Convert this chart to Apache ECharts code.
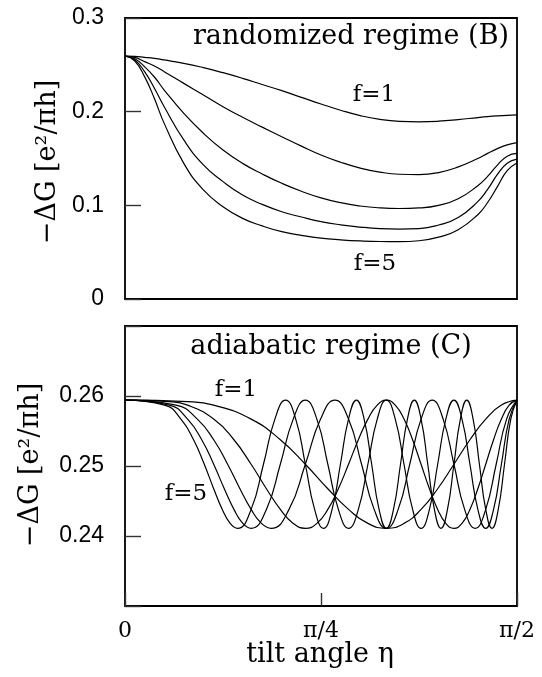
<!DOCTYPE html>
<html>
<head>
<meta charset="utf-8">
<script src="https://cdn.jsdelivr.net/npm/echarts@6/dist/echarts.min.js"></script>
<style>
html, body { margin: 0; padding: 0; background: #fff; }
#chart { width: 542px; height: 677px; }
</style>
</head>
<body>
<div id="chart"></div>
<script>
// Tilt angle samples (rad) for the randomized-regime curves
const etaRandom = [0, 0.0393, 0.0785, 0.1178, 0.1571, 0.2356, 0.3142, 0.3927, 0.4712, 0.5498,
  0.6283, 0.7069, 0.7854, 0.8639, 0.9425, 1.0210, 1.0996, 1.1781, 1.2566, 1.3352,
  1.4137, 1.4530, 1.4923, 1.5315, 1.5708];
const gRandomF1 = [0.2594, 0.2591, 0.2580, 0.2568, 0.2552, 0.2516, 0.2470, 0.2416, 0.2356, 0.2290,
  0.2224, 0.2153, 0.2082, 0.2015, 0.1958, 0.1918, 0.1897, 0.1892, 0.1898, 0.1915,
  0.1937, 0.1947, 0.1955, 0.1961, 0.1965];
const gRandomF2 = [0.2594, 0.2579, 0.2534, 0.2487, 0.2427, 0.2302, 0.2178, 0.2053, 0.1940, 0.1835,
  0.1733, 0.1632, 0.1537, 0.1460, 0.1398, 0.1355, 0.1332, 0.1328, 0.1350, 0.1410,
  0.1500, 0.1555, 0.1605, 0.1645, 0.1669];
const gRandomF3 = [0.2594, 0.2565, 0.2480, 0.2370, 0.2231, 0.1982, 0.1769, 0.1591, 0.1448, 0.1335,
  0.1235, 0.1150, 0.1080, 0.1028, 0.0993, 0.0973, 0.0966, 0.0972, 0.1000, 0.1070,
  0.1210, 0.1310, 0.1430, 0.1525, 0.1555];
const gRandomF4 = [0.2594, 0.2552, 0.2427, 0.2250, 0.2053, 0.1698, 0.1431, 0.1253, 0.1110, 0.1010,
  0.0932, 0.0875, 0.0826, 0.0792, 0.0768, 0.0752, 0.0747, 0.0752, 0.0790, 0.0870,
  0.1040, 0.1170, 0.1330, 0.1450, 0.1493];
const gRandomF5 = [0.2594, 0.2539, 0.2374, 0.2140, 0.1875, 0.1448, 0.1164, 0.0986, 0.0861, 0.0780,
  0.0719, 0.0680, 0.0650, 0.0632, 0.0620, 0.0614, 0.0613, 0.0622, 0.0660, 0.0740,
  0.0900, 0.1030, 0.1200, 0.1370, 0.1452];

// Adiabatic regime: each curve listed at its own extrema, crossings and quarter points
const etaAdiabaticF1 = [0, 0.2507, 0.3554, 0.5054, 0.6224, 0.7227, 0.8128, 0.8957, 0.9734, 1.0472,
  1.1180, 1.1864, 1.2530, 1.3181, 1.3822, 1.4455, 1.5083, 1.5708];
const gAdiabaticF1 = [0.2594, 0.2592, 0.2587, 0.2567, 0.25375, 0.25025, 0.24675, 0.2438, 0.2418, 0.2411,
  0.2418, 0.2438, 0.24675, 0.25025, 0.25375, 0.2567, 0.2587, 0.2594];

const etaAdiabaticF2 = [0, 0.1770, 0.2507, 0.3554, 0.4365, 0.5054, 0.5666, 0.6224, 0.6741, 0.7227,
  0.7688, 0.8128, 0.8550, 0.8957, 0.9351, 0.9734, 1.0107, 1.0472, 1.0829, 1.1180,
  1.1525, 1.1864, 1.2199, 1.2530, 1.2857, 1.3181, 1.3503, 1.3822, 1.4139, 1.4455,
  1.4769, 1.5083, 1.5395, 1.5708];
const gAdiabaticF2 = [0.2594, 0.2592, 0.2587, 0.2567, 0.25375, 0.25025, 0.24675, 0.2438, 0.2418, 0.2411,
  0.2418, 0.2438, 0.24675, 0.25025, 0.25375, 0.2567, 0.2587, 0.2594, 0.2587, 0.2567,
  0.25375, 0.25025, 0.24675, 0.2438, 0.2418, 0.2411, 0.2418, 0.2438, 0.24675, 0.25025,
  0.25375, 0.2567, 0.2587, 0.2594];

const etaAdiabaticF3 = [0, 0.2045, 0.2897, 0.3554, 0.4111, 0.4605, 0.5054, 0.5469, 0.5857, 0.6573,
  0.7227, 0.7837, 0.8411, 0.8957, 0.9480, 0.9984, 1.0472, 1.0947, 1.1410, 1.1864,
  1.2310, 1.2748, 1.3181, 1.3609, 1.4033, 1.4455, 1.4874, 1.5291, 1.5708];
const gAdiabaticF3 = [0.2594, 0.2587, 0.2567, 0.25375, 0.25025, 0.24675, 0.2438, 0.2418, 0.2411, 0.2438,
  0.25025, 0.2567, 0.2594, 0.2567, 0.25025, 0.2438, 0.2411, 0.2438, 0.25025, 0.2567,
  0.2594, 0.2567, 0.25025, 0.2438, 0.2411, 0.2438, 0.25025, 0.2567, 0.2594];

const etaAdiabaticF4 = [0, 0.1770, 0.2507, 0.3074, 0.3554, 0.3979, 0.4365, 0.4721, 0.5054, 0.5666,
  0.6224, 0.6741, 0.7227, 0.7688, 0.8128, 0.8550, 0.8957, 0.9351, 0.9734, 1.0107,
  1.0472, 1.0829, 1.1180, 1.1525, 1.1864, 1.2199, 1.2530, 1.2857, 1.3181, 1.3503,
  1.3822, 1.4139, 1.4455, 1.4769, 1.5083, 1.5395, 1.5708];
const gAdiabaticF4 = [0.2594, 0.2587, 0.2567, 0.25375, 0.25025, 0.24675, 0.2438, 0.2418, 0.2411, 0.2438,
  0.25025, 0.2567, 0.2594, 0.2567, 0.25025, 0.2438, 0.2411, 0.2438, 0.25025, 0.2567,
  0.2594, 0.2567, 0.25025, 0.2438, 0.2411, 0.2438, 0.25025, 0.2567, 0.2594, 0.2567,
  0.25025, 0.2438, 0.2411, 0.2438, 0.25025, 0.2567, 0.2594];

const etaAdiabaticF5 = [0, 0.1583, 0.2241, 0.2747, 0.3176, 0.3554, 0.3898, 0.4214, 0.4510, 0.5054,
  0.5548, 0.6006, 0.6435, 0.6841, 0.7227, 0.7598, 0.7954, 0.8298, 0.8632, 0.8957,
  0.9273, 0.9582, 0.9884, 1.0181, 1.0472, 1.0758, 1.1040, 1.1318, 1.1593, 1.1864,
  1.2132, 1.2398, 1.2661, 1.2922, 1.3181, 1.3439, 1.3694, 1.3949, 1.4202, 1.4455,
  1.4706, 1.4957, 1.5208, 1.5458, 1.5708];
const gAdiabaticF5 = [0.2594, 0.2587, 0.2567, 0.25375, 0.25025, 0.24675, 0.2438, 0.2418, 0.2411, 0.2438,
  0.25025, 0.2567, 0.2594, 0.2567, 0.25025, 0.2438, 0.2411, 0.2438, 0.25025, 0.2567,
  0.2594, 0.2567, 0.25025, 0.2438, 0.2411, 0.2438, 0.25025, 0.2567, 0.2594, 0.2567,
  0.25025, 0.2438, 0.2411, 0.2438, 0.25025, 0.2567, 0.2594, 0.2567, 0.25025, 0.2438,
  0.2411, 0.2438, 0.25025, 0.2567, 0.2594];

// Axis ticks
const xTickLabels = ['0', 'π/4', 'π/2'];
const xMax = 1.5708;
const xStep = 0.7854;
const yTopTicks = [0, 0.1, 0.2, 0.3];
const yBottomTicks = [0.24, 0.25, 0.26];

const serif = '"DejaVu Serif", "Liberation Serif", serif';
const sans = '"Liberation Sans", Arial, sans-serif';

function pairs(xs, ys) {
  return xs.map((x, i) => [x, ys[i]]);
}

function curve(xIndex, yIndex, xs, ys) {
  return {
    type: 'line',
    xAxisIndex: xIndex,
    yAxisIndex: yIndex,
    data: pairs(xs, ys),
    smooth: 0.5,
    showSymbol: false,
    silent: true,
    lineStyle: { color: '#000', width: 1.2 }
  };
}

const chart = echarts.init(document.getElementById('chart'), null, { renderer: 'canvas' });

const tickStyle = { show: true, inside: true, length: 16, lineStyle: { color: '#333', width: 1.4 } };

chart.setOption({
  animation: false,
  backgroundColor: '#fff',
  grid: [
    { left: 125, top: 18, width: 392, height: 281, show: true, borderColor: '#000', borderWidth: 1.8, backgroundColor: 'transparent' },
    { left: 125, top: 326, width: 392, height: 280, show: true, borderColor: '#000', borderWidth: 1.8, backgroundColor: 'transparent' }
  ],
  xAxis: [
    {
      gridIndex: 0, type: 'value', min: 0, max: xMax, interval: xStep,
      axisLine: { show: false }, axisTick: { show: false }, axisLabel: { show: false }, splitLine: { show: false }
    },
    {
      gridIndex: 1, type: 'value', min: 0, max: xMax, interval: xStep,
      axisLine: { show: false },
      axisTick: { show: true, inside: true, length: 13, lineStyle: { color: '#333', width: 1.4 } },
      splitLine: { show: false },
      axisLabel: {
        margin: 14, color: '#000', fontFamily: serif, fontSize: 22,
        formatter: (v) => xTickLabels[Math.round(v / xStep)] || ''
      }
    }
  ],
  yAxis: [
    {
      gridIndex: 0, type: 'value', min: 0, max: 0.3, interval: 0.1,
      axisLine: { show: false }, axisTick: tickStyle, splitLine: { show: false },
      axisLabel: {
        margin: 21, color: '#000', fontFamily: sans, fontSize: 23,
        formatter: (v) => {
          const t = yTopTicks.find((k) => Math.abs(k - v) < 1e-6);
          return t === undefined ? '' : (t === 0 ? '0' : t.toFixed(1));
        }
      }
    },
    {
      gridIndex: 1, type: 'value', min: 0.23, max: 0.27, interval: 0.01,
      axisLine: { show: false }, axisTick: tickStyle, splitLine: { show: false },
      axisLabel: {
        margin: 21, color: '#000', fontFamily: sans, fontSize: 23,
        formatter: (v) => {
          const t = yBottomTicks.find((k) => Math.abs(k - v) < 1e-6);
          return t === undefined ? '' : t.toFixed(2);
        }
      }
    }
  ],
  graphic: [
    { type: 'text', x: 509, y: 37, silent: true,
      style: { text: 'randomized regime (B)', font: '27px ' + serif, fill: '#000', textAlign: 'right', textVerticalAlign: 'middle' } },
    { type: 'text', x: 374, y: 95, silent: true,
      style: { text: 'f=1', font: '23px ' + serif, fill: '#000', textAlign: 'center', textVerticalAlign: 'middle' } },
    { type: 'text', x: 375, y: 264, silent: true,
      style: { text: 'f=5', font: '23px ' + serif, fill: '#000', textAlign: 'center', textVerticalAlign: 'middle' } },
    { type: 'text', x: 331, y: 347, silent: true,
      style: { text: 'adiabatic regime (C)', font: '27px ' + serif, fill: '#000', textAlign: 'center', textVerticalAlign: 'middle' } },
    { type: 'text', x: 236, y: 390, silent: true,
      style: { text: 'f=1', font: '23px ' + serif, fill: '#000', textAlign: 'center', textVerticalAlign: 'middle' } },
    { type: 'text', x: 186, y: 494, silent: true,
      style: { text: 'f=5', font: '23px ' + serif, fill: '#000', textAlign: 'center', textVerticalAlign: 'middle' } },
    { type: 'text', x: 48, y: 162, rotation: Math.PI / 2, silent: true,
      style: { text: '−ΔG [e²/πh]', font: '27px ' + serif, fill: '#000', textAlign: 'center', textVerticalAlign: 'middle' } },
    { type: 'text', x: 31, y: 465, rotation: Math.PI / 2, silent: true,
      style: { text: '−ΔG [e²/πh]', font: '27px ' + serif, fill: '#000', textAlign: 'center', textVerticalAlign: 'middle' } },
    { type: 'text', x: 320, y: 655, silent: true,
      style: { text: 'tilt angle η', font: '27px ' + serif, fill: '#000', textAlign: 'center', textVerticalAlign: 'middle' } }
  ],
  series: [
    curve(0, 0, etaRandom, gRandomF1),
    curve(0, 0, etaRandom, gRandomF2),
    curve(0, 0, etaRandom, gRandomF3),
    curve(0, 0, etaRandom, gRandomF4),
    curve(0, 0, etaRandom, gRandomF5),
    curve(1, 1, etaAdiabaticF1, gAdiabaticF1),
    curve(1, 1, etaAdiabaticF2, gAdiabaticF2),
    curve(1, 1, etaAdiabaticF3, gAdiabaticF3),
    curve(1, 1, etaAdiabaticF4, gAdiabaticF4),
    curve(1, 1, etaAdiabaticF5, gAdiabaticF5)
  ]
});
</script>
</body>
</html>
